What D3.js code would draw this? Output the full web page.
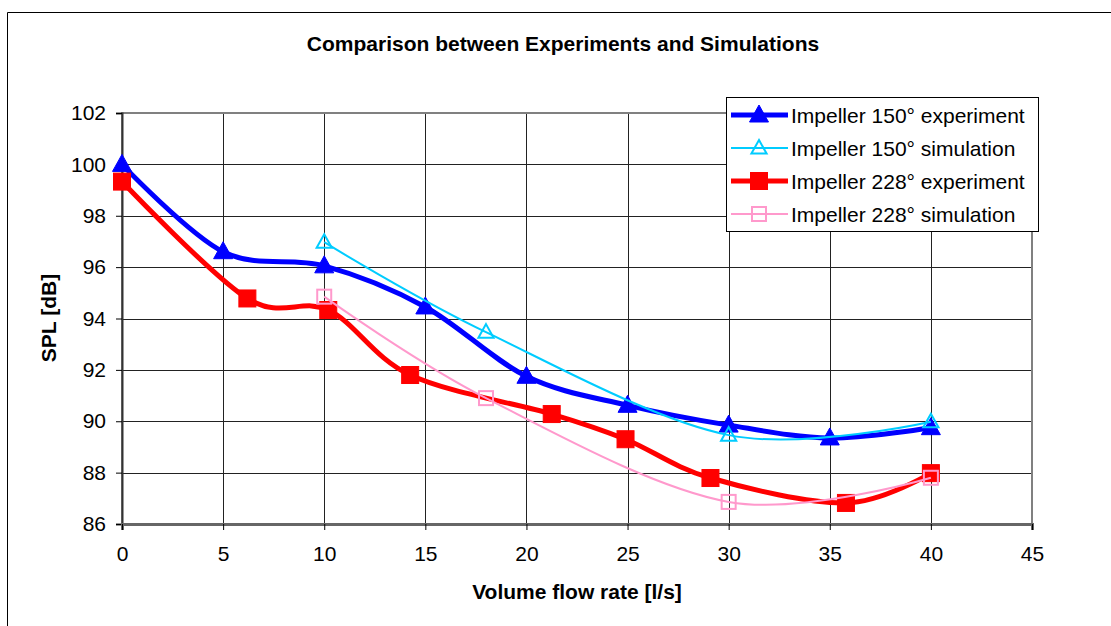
<!DOCTYPE html>
<html>
<head>
<meta charset="utf-8">
<script src="https://cdn.jsdelivr.net/npm/d3@7"></script>
<style>
  body { margin: 0; background: #fff; }
  svg { display: block; font-family: "Liberation Sans", Arial, sans-serif; }
</style>
</head>
<body>
<div id="wrapper"></div>
<script>
// values
const exp150 = [[0, 100.0], [5, 96.6], [10, 96.05], [15, 94.45], [20, 91.75], [25, 90.62], [30, 89.85], [35, 89.35], [40, 89.75]]
const sim150 = [[10, 96.97], [18, 93.47], [30, 89.46], [40, 89.98]]
const exp228 = [[0, 99.33], [6.2, 94.78], [10.2, 94.33], [14.25, 91.8], [21.25, 90.28], [24.9, 89.3], [29.1, 87.79], [35.8, 86.82], [40, 87.98]]
const sim228 = [[10, 94.85], [18, 90.9], [30, 86.86], [40, 87.8]]
const xTicks = [0, 5, 10, 15, 20, 25, 30, 35, 40, 45]
const yTicks = [86, 88, 90, 92, 94, 96, 98, 100, 102]

const seriesList = [
  {name: "Impeller 150° experiment", data: exp150, color: "#0000ff", width: 5, marker: "triangle", fill: true},
  {name: "Impeller 150° simulation", data: sim150, color: "#00ccff", width: 2, marker: "triangle", fill: false},
  {name: "Impeller 228° experiment", data: exp228, color: "#ff0000", width: 5, marker: "square", fill: true},
  {name: "Impeller 228° simulation", data: sim228, color: "#ff99cc", width: 2, marker: "square", fill: false},
]

const dimensions = {
  width: 1111,
  height: 626,
  margin: {top: 113, right: 79, bottom: 102, left: 122},
}
dimensions.boundedWidth = dimensions.width - dimensions.margin.left - dimensions.margin.right
dimensions.boundedHeight = dimensions.height - dimensions.margin.top - dimensions.margin.bottom

const svg = d3.select("#wrapper")
  .append("svg")
  .attr("width", dimensions.width)
  .attr("height", dimensions.height)

// outer chart frame (top and left edges visible)
svg.append("path")
  .attr("d", "M7.5,626 V12.5 H1111")
  .attr("fill", "none")
  .attr("stroke", "#000")
  .attr("stroke-width", 1)

svg.append("text")
  .attr("x", 563)
  .attr("y", 51)
  .attr("text-anchor", "middle")
  .style("font-size", "21px")
  .style("font-weight", "bold")
  .text("Comparison between Experiments and Simulations")

const bounds = svg.append("g")
  .attr("transform", `translate(${dimensions.margin.left}, ${dimensions.margin.top})`)

const xScale = d3.scaleLinear()
  .domain([0, 45])
  .range([0, dimensions.boundedWidth])
const yScale = d3.scaleLinear()
  .domain([86, 102])
  .range([dimensions.boundedHeight, 0])

// gridlines
bounds.append("g")
  .selectAll("line")
  .data(yTicks)
  .join("line")
  .attr("x1", 0)
  .attr("x2", dimensions.boundedWidth)
  .attr("y1", d => Math.round(yScale(d)) + 0.5)
  .attr("y2", d => Math.round(yScale(d)) + 0.5)
  .attr("stroke", "#222")
  .attr("stroke-width", 1)
bounds.append("g")
  .selectAll("line")
  .data(xTicks)
  .join("line")
  .attr("y1", 0)
  .attr("y2", dimensions.boundedHeight)
  .attr("x1", d => Math.round(xScale(d)) + 0.5)
  .attr("x2", d => Math.round(xScale(d)) + 0.5)
  .attr("stroke", "#222")
  .attr("stroke-width", 1)

// plot area frame
bounds.append("rect")
  .attr("x", 0)
  .attr("y", 0)
  .attr("width", dimensions.boundedWidth)
  .attr("height", dimensions.boundedHeight)
  .attr("fill", "none")
  .attr("stroke", "#808080")
  .attr("stroke-width", 2)

// axes
const yAxis = bounds.append("g")
  .call(d3.axisLeft(yScale).tickValues(yTicks).tickSize(6).tickPadding(10))
const xAxis = bounds.append("g")
  .attr("transform", `translate(0, ${dimensions.boundedHeight})`)
  .call(d3.axisBottom(xScale).tickValues(xTicks).tickSize(6).tickPadding(16))
yAxis.select(".domain").attr("stroke", "#333").attr("stroke-width", 2)
xAxis.select(".domain").attr("stroke", "#666").attr("stroke-width", 3)
bounds.selectAll(".tick line").attr("stroke", "#000")
bounds.selectAll(".tick text")
  .attr("fill", "#000")
  .style("font-size", "21px")
  .style("font-family", "'Liberation Sans', Arial, sans-serif")

svg.append("text")
  .attr("transform", `translate(56, 318) rotate(-90)`)
  .attr("text-anchor", "middle")
  .style("font-size", "21px")
  .style("font-weight", "bold")
  .text("SPL [dB]")
svg.append("text")
  .attr("x", 577)
  .attr("y", 599)
  .attr("text-anchor", "middle")
  .style("font-size", "21px")
  .style("font-weight", "bold")
  .text("Volume flow rate [l/s]")

// series
const lineGenerator = d3.line()
  .x(d => xScale(d[0]))
  .y(d => yScale(d[1]))
  .curve(d3.curveCardinal.tension(0))

function drawMarker(sel, s, cx, cy) {
  if (s.marker === "triangle") {
    const r = s.fill ? 10 : 8
    sel.append("path")
      .attr("d", `M${cx},${cy - r} L${cx + r * 0.95},${cy + r * 0.7} L${cx - r * 0.95},${cy + r * 0.7} Z`)
      .attr("fill", s.fill ? s.color : "#fff")
      .attr("fill-opacity", s.fill ? 1 : 0)
      .attr("stroke", s.color)
      .attr("stroke-width", s.fill ? 1 : 2)
  } else {
    const h = s.fill ? 8.5 : 7
    sel.append("rect")
      .attr("x", cx - h)
      .attr("y", cy - h)
      .attr("width", 2 * h)
      .attr("height", 2 * h)
      .attr("fill", s.fill ? s.color : "none")
      .attr("stroke", s.color)
      .attr("stroke-width", s.fill ? 1 : 2)
  }
}

seriesList.forEach(s => {
  bounds.append("path")
    .attr("d", lineGenerator(s.data))
    .attr("fill", "none")
    .attr("stroke", s.color)
    .attr("stroke-width", s.width)
    .attr("stroke-linejoin", "round")
  const g = bounds.append("g")
  s.data.forEach(d => drawMarker(g, s, xScale(d[0]), yScale(d[1])))
})

// legend
const legend = svg.append("g").attr("transform", "translate(726, 97)")
legend.append("rect")
  .attr("x", 0.5)
  .attr("y", 0.5)
  .attr("width", 312)
  .attr("height", 134)
  .attr("fill", "#fff")
  .attr("stroke", "#000")
seriesList.forEach((s, i) => {
  const y = 18 + i * 33
  const row = legend.append("g")
  row.append("line")
    .attr("x1", 5)
    .attr("x2", 62)
    .attr("y1", y)
    .attr("y2", y)
    .attr("stroke", s.color)
    .attr("stroke-width", s.width)
  drawMarker(row, s, 33, y)
  row.append("text")
    .attr("x", 65)
    .attr("y", y + 7.5)
    .style("font-size", "21px")
    .text(s.name)
})
</script>
</body>
</html>
